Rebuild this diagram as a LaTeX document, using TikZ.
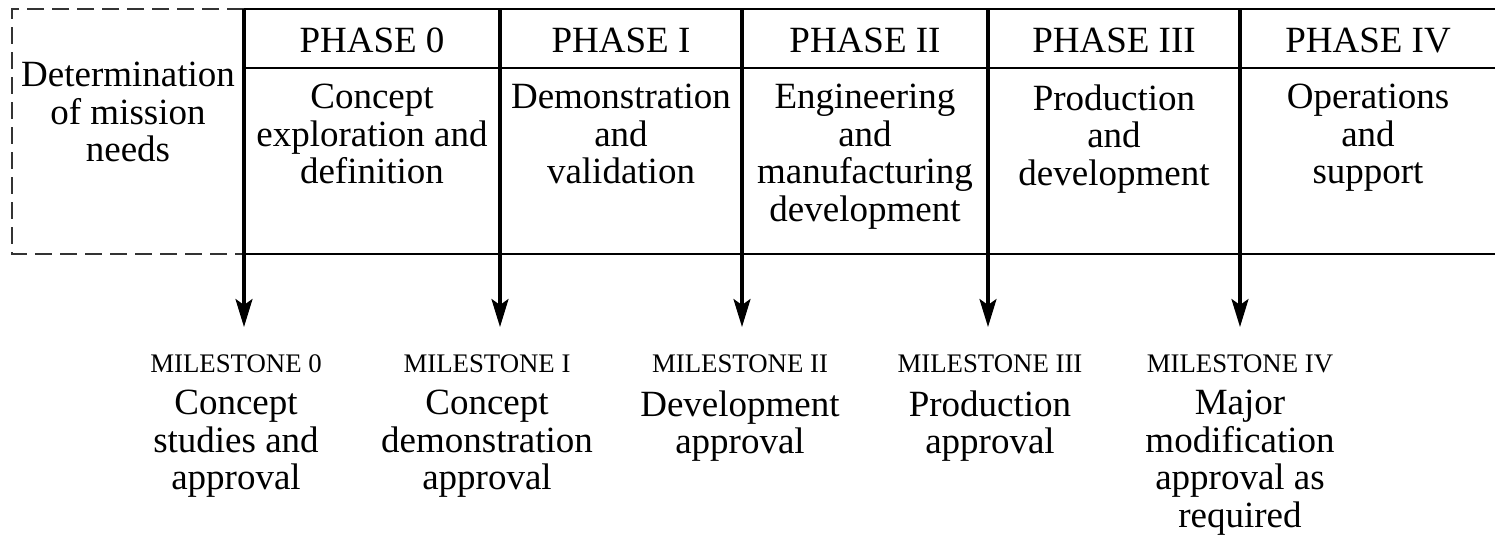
\documentclass[tikz,border=0pt]{standalone}
\usepackage{fontspec}
\setmainfont{Liberation Serif}
\usetikzlibrary{arrows.meta}

\begin{document}
\begin{tikzpicture}[x=0.5pt, y=-0.5pt,
  phase/.style={anchor=base, inner sep=0pt, font=\fontsize{18.5}{18.75}\selectfont},
  task/.style={anchor=north, inner sep=0pt, align=center, font=\fontsize{18.5}{18.75}\selectfont},
  mslabel/.style={anchor=base, inner sep=0pt, font=\fontsize{13.4}{14}\selectfont},
  rule/.style={line width=1pt},
  needs/.style={line width=0.8pt, black!80, dash pattern=on 8.5pt off 4pt},
  arrow/.style={line width=1.6pt, -{Stealth[length=14pt, width=8.5pt, inset=3pt]}}]
		\useasboundingbox (0,0) rectangle (1495,538);
		% Table
		\draw[needs] (244,9) -- (12,9) -- (12,254) -- (244,254);
		\draw[rule] (244,9) -- (1495,9);
		\draw[rule] (244,68) -- (1495,68);
		\draw[rule] (244,254) -- (1495,254);
		% Nodes
		\node[task] (N) at (128,62) {Determination\\of mission\\needs};
		\node[phase] (P0) at (372,52) {PHASE 0};
		\node[phase] (P1) at (621,52) {PHASE I};
		\node[phase] (P2) at (865,52) {PHASE II};
		\node[phase] (P3) at (1114,52) {PHASE III};
		\node[phase] (P4) at (1368,52) {PHASE IV};
		\node[task] (T0) at (372,84) {Concept\\exploration and\\definition};
		\node[task] (T1) at (621,84) {Demonstration\\and\\validation};
		\node[task] (T2) at (865,84) {Engineering\\and\\manufacturing\\development};
		\node[task] (T3) at (1114,84) {Production\\and\\development};
		\node[task] (T4) at (1368,84) {Operations\\and\\support};
		% Milestones
		\node[mslabel] (M0) at (236,372) {MILESTONE 0};
		\node[mslabel] (M1) at (487,372) {MILESTONE I};
		\node[mslabel] (M2) at (740,372) {MILESTONE II};
		\node[mslabel] (M3) at (990,372) {MILESTONE III};
		\node[mslabel] (M4) at (1240,372) {MILESTONE IV};
		\node[task] (A0) at (236,390) {Concept\\studies and\\approval};
		\node[task] (A1) at (487,390) {Concept\\demonstration\\approval};
		\node[task] (A2) at (740,390) {Development\\approval};
		\node[task] (A3) at (990,390) {Production\\approval};
		\node[task] (A4) at (1240,390) {Major\\modification\\approval as\\required};
		% Arrows
		\coordinate (S0) at (244,9);  \coordinate (E0) at (244,327);
		\coordinate (S1) at (500,9);  \coordinate (E1) at (500,327);
		\coordinate (S2) at (742,9);  \coordinate (E2) at (742,327);
		\coordinate (S3) at (988,9);  \coordinate (E3) at (988,327);
		\coordinate (S4) at (1240,9); \coordinate (E4) at (1240,327);
		\draw[arrow] (S0) -- (E0);
		\draw[arrow] (S1) -- (E1);
		\draw[arrow] (S2) -- (E2);
		\draw[arrow] (S3) -- (E3);
		\draw[arrow] (S4) -- (E4);
	\end{tikzpicture}
\end{document}
